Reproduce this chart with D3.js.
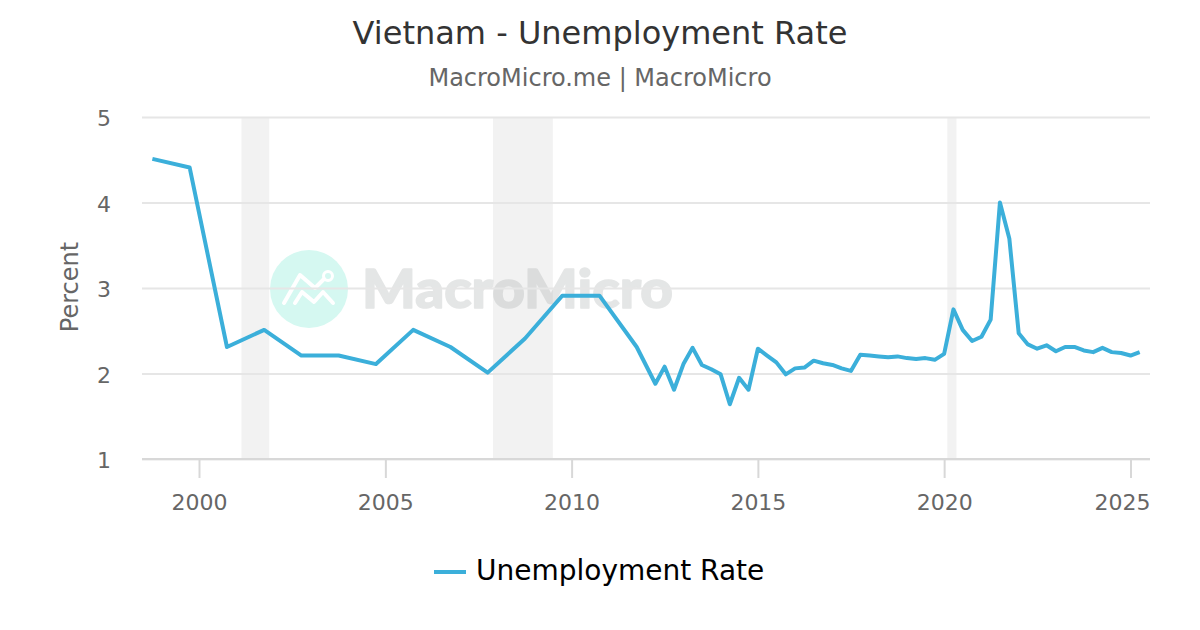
<!DOCTYPE html>
<html>
<head>
<meta charset="utf-8">
<script src="https://cdnjs.cloudflare.com/ajax/libs/d3/7.8.5/d3.min.js"></script>
<style>
html, body { margin: 0; padding: 0; background: #fff; }
svg { display: block; }
text { font-family: "DejaVu Sans", sans-serif; }
</style>
</head>
<body>
<div class="container"></div>
<script>
var WIDTH = 1200,
	HEIGHT = 630,
	LEFT = 142,
	RIGHT = 1150,
	TOP = 117,
	BOTTOM = 459;

var dates = [
	'1998-10', '1999-10', '2000-10', '2001-10', '2002-10', '2003-10', '2004-10', '2005-10', '2006-10',
	'2007-10', '2008-10', '2009-10', '2010-10', '2011-10',
	'2012-04', '2012-07', '2012-10', '2013-01', '2013-04', '2013-07', '2013-10',
	'2014-01', '2014-04', '2014-07', '2014-10', '2015-01', '2015-04', '2015-07', '2015-10',
	'2016-01', '2016-04', '2016-07', '2016-10', '2017-01', '2017-04', '2017-07', '2017-10',
	'2018-01', '2018-04', '2018-07', '2018-10', '2019-01', '2019-04', '2019-07', '2019-10',
	'2020-01', '2020-04', '2020-07', '2020-10', '2021-01', '2021-04', '2021-07', '2021-10',
	'2022-01', '2022-04', '2022-07', '2022-10', '2023-01', '2023-04', '2023-07', '2023-10',
	'2024-01', '2024-04', '2024-07', '2024-10', '2025-01', '2025-04'
];

var unemployment = [
	4.51, 4.41, 2.31, 2.51, 2.21, 2.21, 2.11, 2.51, 2.31,
	2.01, 2.41, 2.91, 2.91, 2.31,
	1.88, 2.08, 1.81, 2.11, 2.30, 2.10, 2.05,
	1.99, 1.64, 1.95, 1.81, 2.29, 2.21, 2.13, 1.99,
	2.06, 2.07, 2.15, 2.12, 2.10, 2.06, 2.03, 2.22,
	2.21, 2.20, 2.19, 2.20, 2.18, 2.17, 2.18, 2.16,
	2.23, 2.75, 2.51, 2.38, 2.43, 2.63, 4.00, 3.58,
	2.47, 2.34, 2.29, 2.33, 2.26, 2.31, 2.31, 2.27,
	2.25, 2.30, 2.25, 2.24, 2.21, 2.25
];

var recessionStart = ['2001-02-20', '2007-11-22', '2020-02-01'];
var recessionEnd = ['2001-11-20', '2009-07-01', '2020-05-01'];
var xTicks = ['2000-01', '2005-01', '2010-01', '2015-01', '2020-01', '2025-01'];
var yTicks = [1, 2, 3, 4, 5];

var parseMonth = d3.timeParse('%Y-%m');
var parseDay = d3.timeParse('%Y-%m-%d');

var svg = d3.select('.container').append('svg')
	.attr('width', WIDTH)
	.attr('height', HEIGHT);

var xScale = d3.scaleTime()
	.domain([parseMonth('2000-01'), parseMonth('2025-01')])
	.range([199, 1130.5]);

var yScale = d3.scaleLinear()
	.domain([1, 5])
	.range([BOTTOM, TOP]);

// recession bands
svg.append('g').selectAll('rect')
	.data(recessionStart).enter()
	.append('rect')
	.attr('x', function(d) {return xScale(parseDay(d))})
	.attr('y', TOP)
	.attr('width', function(d, i) {return xScale(parseDay(recessionEnd[i])) - xScale(parseDay(d))})
	.attr('height', BOTTOM - TOP)
	.attr('fill', '#f2f2f2');

// watermark
var mark = svg.append('g');
mark.append('circle')
	.attr('cx', 309)
	.attr('cy', 289)
	.attr('r', 39)
	.attr('fill', '#d5f8f1');
mark.append('path')
	.attr('d', 'M284,303 L300,275 L315,288 L324,279 M295,303 L302,292 L314,302 L323,292 L333,303')
	.attr('fill', 'none')
	.attr('stroke', '#fff')
	.attr('stroke-width', 4)
	.attr('stroke-linecap', 'round')
	.attr('stroke-linejoin', 'round');
mark.append('circle')
	.attr('cx', 328)
	.attr('cy', 276)
	.attr('r', 4.5)
	.attr('fill', 'none')
	.attr('stroke', '#fff')
	.attr('stroke-width', 3);
mark.append('g')
	.attr('opacity', 0.3)
	.append('text')
	.attr('x', 362)
	.attr('y', 308)
	.attr('font-size', 53)
	.attr('font-weight', 900)
	.attr('textLength', 311)
	.attr('lengthAdjust', 'spacingAndGlyphs')
	.style('font-family', 'Lato, sans-serif')
	.attr('fill', '#a8adad')
	.attr('stroke', '#a8adad')
	.attr('stroke-width', 1.5)
	.attr('stroke-linejoin', 'round')
	.text('MacroMicro');

// y grid and labels
var yAxis = d3.axisLeft(yScale)
	.tickValues(yTicks)
	.tickSize(LEFT - RIGHT)
	.tickPadding(31)
	.tickFormat(d3.format('d'));

var yAxisGroup = svg.append('g')
	.attr('transform', 'translate(' + LEFT + ',0)')
	.call(yAxis);
yAxisGroup.select('.domain').remove();
yAxisGroup.selectAll('.tick line')
	.attr('stroke', '#e6e6e6')
	.attr('stroke-width', 2);
yAxisGroup.selectAll('.tick text')
	.attr('font-size', 22)
	.attr('dy', '0.39em')
	.attr('fill', '#666');

// x axis
var xAxis = d3.axisBottom(xScale)
	.tickValues(xTicks.map(parseMonth))
	.tickSize(19)
	.tickPadding(16.5)
	.tickFormat(d3.timeFormat('%Y'));

var xAxisGroup = svg.append('g')
	.attr('transform', 'translate(0,' + BOTTOM + ')')
	.call(xAxis);
xAxisGroup.select('.domain').remove();
xAxisGroup.selectAll('.tick line')
	.attr('stroke', '#d8d8d8')
	.attr('stroke-width', 2);
xAxisGroup.selectAll('.tick text')
	.attr('font-size', 22)
	.attr('fill', '#666');
// the last label is pulled back inside the plot edge
xAxisGroup.selectAll('.tick:last-of-type text')
	.attr('text-anchor', 'end')
	.attr('dx', RIGHT - xScale(parseMonth('2025-01')));
xAxisGroup.append('line')
	.attr('x1', LEFT)
	.attr('x2', RIGHT)
	.attr('stroke', '#d8d8d8')
	.attr('stroke-width', 2);

// series
var line = d3.line()
	.x(function(d) {return xScale(parseMonth(d))})
	.y(function(d, i) {return yScale(unemployment[i])});

svg.append('path')
	.datum(dates)
	.attr('d', line)
	.attr('fill', 'none')
	.attr('stroke', '#3bafda')
	.attr('stroke-width', 4)
	.attr('stroke-linejoin', 'round');

// titles
svg.append('text')
	.attr('x', 600)
	.attr('y', 44)
	.attr('text-anchor', 'middle')
	.attr('font-size', 32)
	.attr('fill', '#333')
	.text('Vietnam - Unemployment Rate');

svg.append('text')
	.attr('x', 600)
	.attr('y', 86)
	.attr('text-anchor', 'middle')
	.attr('font-size', 24)
	.attr('fill', '#666')
	.text('MacroMicro.me | MacroMicro');

svg.append('text')
	.attr('transform', 'translate(78,287) rotate(-90)')
	.attr('text-anchor', 'middle')
	.attr('font-size', 24)
	.attr('fill', '#666')
	.text('Percent');

// legend
svg.append('line')
	.attr('x1', 434)
	.attr('x2', 466)
	.attr('y1', 572)
	.attr('y2', 572)
	.attr('stroke', '#3bafda')
	.attr('stroke-width', 4);

svg.append('text')
	.attr('x', 476)
	.attr('y', 580)
	.attr('font-size', 28)
	.attr('fill', '#000')
	.text('Unemployment Rate');
</script>
</body>
</html>
